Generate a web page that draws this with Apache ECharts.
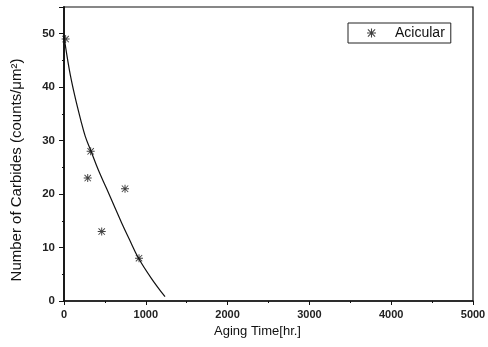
<!DOCTYPE html>
<html><head><meta charset="utf-8">
<script src="https://cdn.jsdelivr.net/npm/echarts@6/dist/echarts.min.js"></script>
<style>html,body{margin:0;padding:0;background:#fff}#c{width:488px;height:347px}</style>
</head><body><div id="c"></div>
<script>
const seriesName = 'Acicular';
const agingTime = [20, 290, 326, 461, 746, 917];
const carbides = [49, 23, 28, 13, 21, 8];
const fitTime = [0, 65, 130, 204, 260, 326, 420, 522, 610, 705, 800, 908, 1070, 1235];
const fitValue = [49.5, 43.3, 38.5, 33.9, 30.8, 28.2, 24.5, 21, 17.9, 14.6, 11.5, 8.1, 4.2, 0.8];
const xTicks = [0, 1000, 2000, 3000, 4000, 5000];
const yTicks = [0, 10, 20, 30, 40, 50];

const star = 'path://M0 4.4H10V5.6H0Z M4.4 0H5.6V10H4.4Z M0.6 1.4L1.4 0.6L9.4 8.6L8.6 9.4Z M8.6 0.6L9.4 1.4L1.4 9.4L0.6 8.6Z';
const chart = echarts.init(document.getElementById('c'));
const font = 'Liberation Sans, Arial, sans-serif';
chart.setOption({
  animation: false,
  backgroundColor: '#fff',
  grid: {left: 64, right: 15, top: 7, bottom: 46, outerBoundsMode: 'none', containLabel: false,
    show: true, borderColor: '#111', borderWidth: 1.2},
  legend: {
    data: [{name: seriesName, icon: star}],
    left: 348, top: 23, width: 103, height: 20,
    borderColor: '#222', borderWidth: 1, borderRadius: 0,
    padding: [3, 6, 3, 19], itemWidth: 9, itemHeight: 9,
    textStyle: {fontFamily: font, fontSize: 14, color: '#111', padding: [0, 0, 0, 14]}
  },
  xAxis: {
    type: 'value', min: 0, max: 5000, interval: 1000,
    name: 'Aging Time[hr.]', nameLocation: 'middle', nameGap: 23,
    nameTextStyle: {fontFamily: font, fontSize: 13, color: '#111', padding: [0, 22, 0, 0]},
    axisLine: {show: true, lineStyle: {color: '#111', width: 1.5}},
    axisTick: {show: true, inside: false, length: 4, lineStyle: {color: '#111'}},
    minorTick: {show: true, splitNumber: 2, length: 2, lineStyle: {color: '#111'}},
    splitLine: {show: false},
    axisLabel: {fontFamily: font, fontSize: 11, fontWeight: 'bold', color: '#222', margin: 8,
      formatter: v => xTicks.includes(v) ? String(v) : ''}
  },
  yAxis: {
    type: 'value', min: 0, max: 55, interval: 10,
    name: 'Number of Carbides (counts/\u03bcm\u00b2)', nameLocation: 'middle', nameGap: 40,
    nameTextStyle: {fontFamily: font, fontSize: 15, color: '#111', padding: [0, 32, 0, 0]},
    axisLine: {show: true, lineStyle: {color: '#111', width: 1.8}},
    axisTick: {show: true, inside: false, length: 5, lineStyle: {color: '#111'}},
    minorTick: {show: true, splitNumber: 2, length: 2, lineStyle: {color: '#111'}},
    splitLine: {show: false},
    axisLabel: {fontFamily: font, fontSize: 11.5, fontWeight: 'bold', color: '#222', margin: 9,
      formatter: v => yTicks.includes(v) ? String(v) : ''}
  },
  series: [
    {
      name: 'fit', type: 'line', smooth: 0.4, symbol: 'none',
      data: fitTime.map((t, i) => [t, fitValue[i]]),
      lineStyle: {color: '#111', width: 1.2}
    },
    {
      name: seriesName, type: 'scatter', symbol: star, symbolSize: 8,
      data: agingTime.map((t, i) => [t, carbides[i]]),
      itemStyle: {color: '#111'}
    }
  ]
});
</script></body></html>
